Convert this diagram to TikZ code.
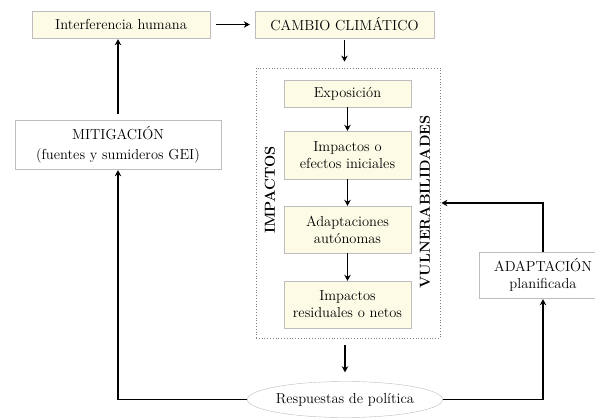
\documentclass[tikz,border=0pt]{standalone}
\usetikzlibrary{arrows.meta,shapes.geometric}
\definecolor{crema}{HTML}{FDFBE6}
\definecolor{borde}{HTML}{BDBDBD}
\tikzset{
  caja/.style={draw=borde,fill=crema,inner sep=0pt,align=center,font=\fontsize{14.5}{17}\selectfont},
  cajablanca/.style={draw=borde,fill=white,inner sep=0pt,align=center,font=\fontsize{14.5}{17}\selectfont},
  flecha/.style={line width=1.5pt,-{Stealth[length=6pt,width=6.5pt]}},
  rotulo/.style={rotate=90,font=\fontsize{14.5}{17}\selectfont\bfseries}
}
\begin{document}
\begin{tikzpicture}[x=1pt,y=-1pt]
	\useasboundingbox (0,0) rectangle (595,418);
		\node[caja,minimum width=178pt,minimum height=27pt] (interf) at (121,24.5) {Interferencia humana};
		\node[caja,minimum width=179pt,minimum height=27pt] (cambio) at (344.5,24.5) {CAMBIO CLIMÁTICO};
		\node[draw=gray,dotted,line width=0.8pt,minimum width=184pt,minimum height=270pt] (vulbox) at (348,203) {};
		\node[caja,minimum width=127pt,minimum height=27pt] (expo) at (347.5,93.5) {Exposición};
		\node[caja,minimum width=127pt,minimum height=48pt] (impini) at (347.5,155) {Impactos o\\efectos iniciales};
		\node[caja,minimum width=127pt,minimum height=47pt] (adaut) at (347.5,229.5) {Adaptaciones\\autónomas};
		\node[caja,minimum width=127pt,minimum height=47pt] (impres) at (347.5,304.5) {Impactos\\residuales o netos};
		\node[rotulo] (impactos) at (270,190) {IMPACTOS};
		\node[rotulo] (vulner) at (425,202) {VULNERABILIDADES};
		\node[cajablanca,minimum width=206pt,minimum height=49pt] (mitig) at (118,144.5) {MITIGACIÓN\\[3pt](fuentes y sumideros GEI)};
		\node[cajablanca,minimum width=128pt,minimum height=46pt] (adapt) at (543,275) {ADAPTACIÓN\\planificada};
		\node[ellipse,draw=borde,fill=white,minimum width=166pt,minimum height=36pt,inner sep=0pt,font=\fontsize{14.5}{17}\selectfont] (resp) at (345,399.5) {Respuestas de política};
		% flechas
		\draw[flecha,shorten <=6pt,shorten >=5pt] (interf) -- (cambio);
		\draw[flecha,shorten <=2pt,shorten >=6pt] (cambio.south) -- (cambio.south |- vulbox.north);
		\draw[flecha] (expo) -- (impini);
		\draw[flecha] (impini) -- (adaut);
		\draw[flecha] (adaut) -- (impres);
		\draw[flecha,shorten <=7pt,shorten >=9pt] (resp.north |- vulbox.south) -- (resp.north);
		\draw[flecha,shorten >=1pt] (resp.west) -| (mitig.south);
		\draw[flecha,shorten <=6pt,shorten >=1pt] (mitig.north) -- (mitig.north |- interf.south);
		\draw[flecha,shorten >=1pt] (resp.east) -| (adapt.south);
		\draw[flecha,shorten >=1pt] (adapt.north) |- (vulbox.east);
\end{tikzpicture}
\end{document}
